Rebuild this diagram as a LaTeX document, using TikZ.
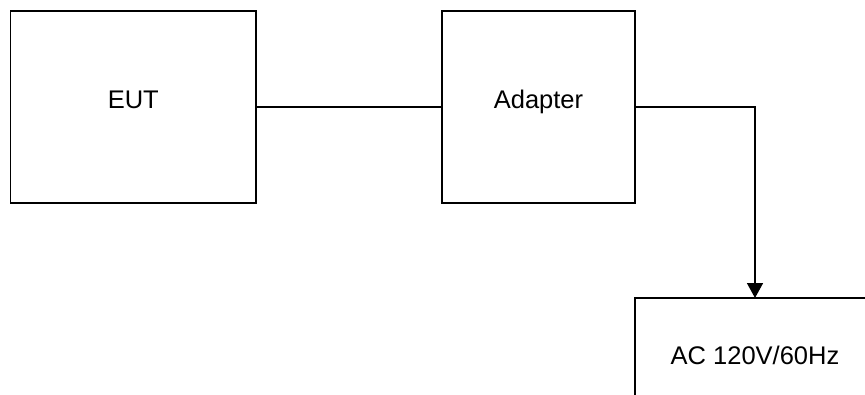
\documentclass[tikz,border=0pt]{standalone}
\usepackage{fontspec}
\setmainfont{Liberation Sans}
\usetikzlibrary{arrows.meta}
\begin{document}
\begin{tikzpicture}[x=1pt,y=1pt,
  blk/.style={draw=black, line width=1.6pt, rectangle, inner sep=0pt, outer sep=0pt,
    font=\fontsize{25.5}{30}\selectfont, text height=18.3pt, text depth=16pt},
  wire/.style={draw=black, line width=1.6pt}]
\useasboundingbox (0,0) rectangle (865,-394);
\clip (0,0) rectangle (865,-394);
\node[blk, minimum width=245.5pt, minimum height=192pt] (eut) at (133.25,-107) {EUT};
\node[blk, minimum width=193pt, minimum height=192pt] (adp) at (538.5,-107) {Adapter};
\node[blk, minimum width=240pt, minimum height=132pt, text depth=0pt, text height=17.5pt] (ac) at (755,-364) {\raisebox{8pt}{AC 120V/60Hz}};
\draw[wire] (eut.east) -- (adp.west);
\draw[wire, -{Triangle[width=16pt,length=15pt]}] (adp.east) -| (ac.north);
\end{tikzpicture}
\end{document}
